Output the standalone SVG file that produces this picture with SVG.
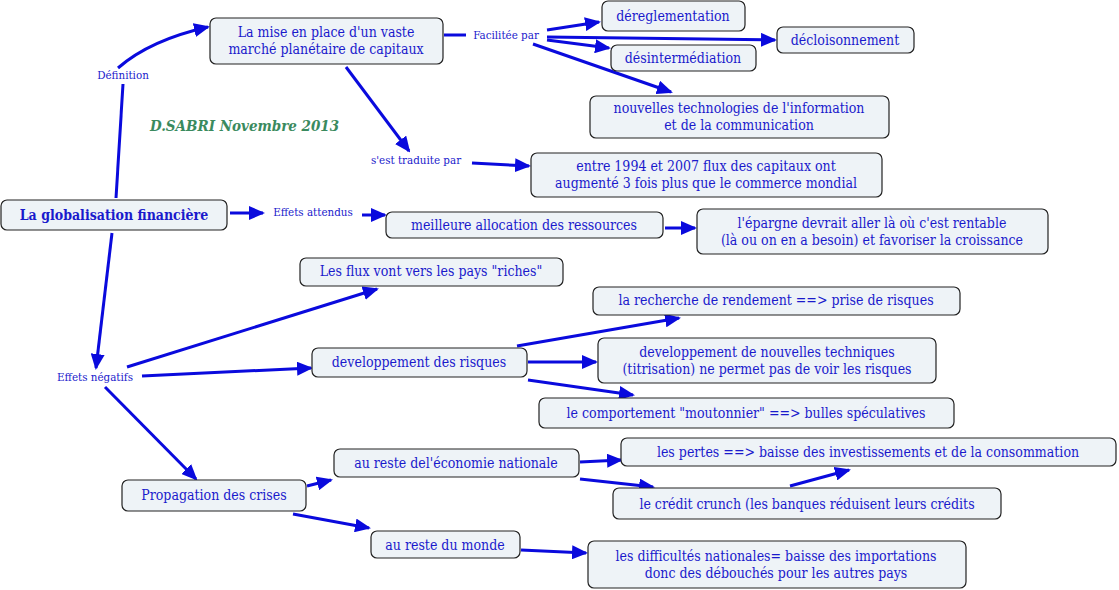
<svg xmlns="http://www.w3.org/2000/svg" width="1119" height="590" viewBox="0 0 1119 590">
<style>
.n rect{fill:#eef3f7;stroke:#222;stroke-width:1.2}
.n text,.l{font-family:"DejaVu Serif","Liberation Serif",serif;font-stretch:condensed;fill:#1a1acc;text-anchor:middle}
.n text{font-size:14px}
.l{font-size:11.5px}
#c path{fill:none;stroke:#0a0add;stroke-width:3}
#c .a{marker-end:url(#ar)}
</style>
<defs><marker id="ar" markerUnits="userSpaceOnUse" markerWidth="16" markerHeight="14" refX="14" refY="7" orient="auto" viewBox="0 0 16 14"><path d="M0,0L16,7L0,14z" fill="#0a0add"/></marker></defs>
<rect width="1119" height="590" fill="#fff"/>
<g id="c">
<path d="M116,198L123,84"/>
<path class="a" d="M118,68Q150,40 208,27"/>
<path d="M444,35L466,35"/>
<path class="a" d="M547,30L599,22"/>
<path class="a" d="M547,37L775,40"/>
<path class="a" d="M547,40L609,48"/>
<path class="a" d="M533,44L671,92"/>
<path class="a" d="M346,67L409,151"/>
<path class="a" d="M472,163L529,166"/>
<path class="a" d="M230,213L263,213"/>
<path class="a" d="M362,215L385,215"/>
<path class="a" d="M665,228L695,228"/>
<path class="a" d="M112,233L96,368"/>
<path class="a" d="M127,367L377,289"/>
<path class="a" d="M142,376L311,368"/>
<path class="a" d="M105,387L196,479"/>
<path class="a" d="M517,346L679,318"/>
<path class="a" d="M528,362L596,362"/>
<path class="a" d="M528,380L633,395"/>
<path class="a" d="M307,486L331,480"/>
<path class="a" d="M293,514L369,528"/>
<path class="a" d="M580,462L621,460"/>
<path class="a" d="M580,479L653,487"/>
<path class="a" d="M790,486L849,470"/>
<path class="a" d="M521,550L586,553"/>
</g>
<text class="l" x="123" y="79">Définition</text>
<text class="l" x="506" y="39">Facilitée par</text>
<text class="l" x="416" y="164">s'est traduite par</text>
<text class="l" x="313" y="216">Effets attendus</text>
<text class="l" x="95" y="381">Effets négatifs</text>
<text x="150" y="131" font-family="DejaVu Serif,serif" font-size="15" font-weight="bold" font-style="italic" fill="#3a8a5e" font-stretch="condensed">D.SABRI  Novembre 2013</text>
<g id="root" class="n"><rect x="1" y="200" width="226" height="30" rx="6"/><text x="114" y="220" font-weight="bold">La globalisation financière</text></g>
<g id="mise" class="n"><rect x="210" y="18" width="233" height="46" rx="6"/><text x="326" y="37">La mise en place d'un vaste</text><text x="326" y="54">marché planétaire de capitaux</text></g>
<g id="dereg" class="n"><rect x="602" y="1" width="143" height="30" rx="6"/><text x="673" y="21">déreglementation</text></g>
<g id="decl" class="n"><rect x="777" y="27" width="137" height="26" rx="6"/><text x="845" y="45">décloisonnement</text></g>
<g id="desint" class="n"><rect x="611" y="45" width="145" height="26" rx="6"/><text x="683" y="63">désintermédiation</text></g>
<g id="ntic" class="n"><rect x="590" y="96" width="299" height="42" rx="6"/><text x="739" y="113">nouvelles technologies de l'information</text><text x="739" y="130">et de la communication</text></g>
<g id="flux" class="n"><rect x="531" y="153" width="351" height="44" rx="6"/><text x="706" y="171">entre 1994 et 2007 flux des capitaux ont</text><text x="706" y="188">augmenté 3 fois plus que le commerce mondial</text></g>
<g id="meil" class="n"><rect x="386" y="212" width="277" height="26" rx="6"/><text x="524" y="230">meilleure allocation des  ressources</text></g>
<g id="epar" class="n"><rect x="697" y="209" width="351" height="45" rx="6"/><text x="872" y="228">l'épargne devrait aller  là où  c'est rentable</text><text x="872" y="245">(là ou on en a besoin) et favoriser la croissance</text></g>
<g id="riches" class="n"><rect x="300" y="258" width="263" height="28" rx="6"/><text x="431" y="276">Les flux vont vers les pays "riches"</text></g>
<g id="rech" class="n"><rect x="593" y="287" width="367" height="28" rx="6"/><text x="776" y="305">la recherche de rendement ==&gt; prise de risques</text></g>
<g id="devr" class="n"><rect x="312" y="348" width="215" height="29" rx="6"/><text x="419" y="367">developpement des risques</text></g>
<g id="devt" class="n"><rect x="598" y="338" width="338" height="45" rx="6"/><text x="767" y="357">developpement de nouvelles techniques</text><text x="767" y="374">(titrisation) ne permet pas de voir les risques</text></g>
<g id="comp" class="n"><rect x="539" y="398" width="415" height="30" rx="6"/><text x="746" y="418">le comportement "moutonnier" ==&gt; bulles spéculatives</text></g>
<g id="reco" class="n"><rect x="334" y="449" width="245" height="28" rx="6"/><text x="456" y="468">au reste del'économie nationale</text></g>
<g id="pert" class="n"><rect x="621" y="438" width="495" height="28" rx="6"/><text x="868" y="457">les  pertes ==&gt; baisse des investissements et de la consommation</text></g>
<g id="cred" class="n"><rect x="613" y="488" width="388" height="31" rx="6"/><text x="807" y="509">le crédit crunch (les banques réduisent leurs crédits</text></g>
<g id="prop" class="n"><rect x="122" y="480" width="184" height="31" rx="6"/><text x="214" y="500">Propagation des crises</text></g>
<g id="monde" class="n"><rect x="371" y="531" width="149" height="27" rx="6"/><text x="445" y="550">au reste du monde</text></g>
<g id="diff" class="n"><rect x="588" y="541" width="378" height="47" rx="6"/><text x="776" y="561">les difficultés nationales= baisse des importations</text><text x="776" y="578">donc des débouchés pour les autres pays</text></g>
</svg>
